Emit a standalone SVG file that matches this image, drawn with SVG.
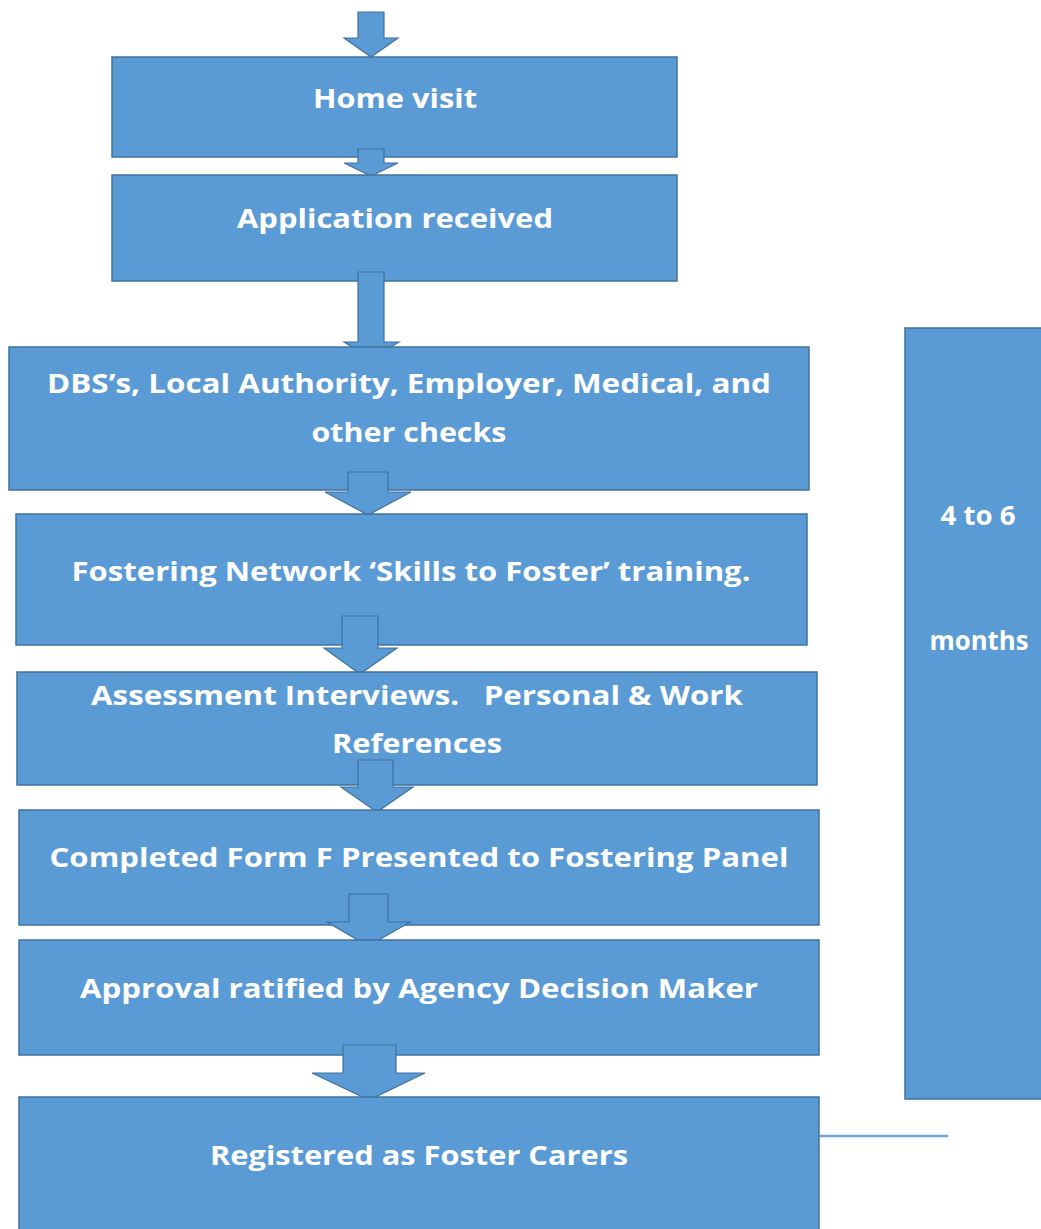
<svg xmlns="http://www.w3.org/2000/svg" width="1041" height="1229" viewBox="0 0 1041 1229">
<style>
.box{fill:#5b9bd5;stroke:#41719c;stroke-width:1.5}
.arr{fill:#5b9bd5;stroke:#41719c;stroke-width:1.2;stroke-linejoin:miter}
.t{fill:#ffffff;font-family:"Open Sans","Liberation Sans",sans-serif;font-weight:bold;font-size:27px;text-anchor:middle}
.conn{stroke:#6fa6d8;stroke-width:2.5;fill:none}
</style>
<rect width="1041" height="1229" fill="#ffffff"/>
<g id="a1"><polygon class="arr" points="358,12 384,12 384,38 398,38 371,57 344,38 358,38"/></g>
<g id="n1"><rect class="box" x="112" y="57" width="565" height="100"/><text class="t" x="395" y="108" textLength="164" lengthAdjust="spacingAndGlyphs">Home visit</text></g>
<g id="a2"><polygon class="arr" points="358,149 384,149 384,163 398,163 371,176 344,163 358,163"/></g>
<g id="n2"><rect class="box" x="112" y="175" width="565" height="106"/><text class="t" x="395" y="228" textLength="316" lengthAdjust="spacingAndGlyphs">Application received</text></g>
<g id="a3"><polygon class="arr" points="358,272 384,272 384,342 399,342 371,358 344,342 358,342"/></g>
<g id="n3"><rect class="box" x="9" y="347" width="800" height="143"/><text class="t" x="409" y="393" textLength="724" lengthAdjust="spacingAndGlyphs">DBS’s, Local Authority, Employer, Medical, and</text><text class="t" x="409" y="442" textLength="195" lengthAdjust="spacingAndGlyphs">other checks</text></g>
<g id="a4"><polygon class="arr" points="348,472 388,472 388,492 411,492 368,515 325,492 348,492"/></g>
<g id="n4"><rect class="box" x="16" y="514" width="791" height="131"/><text class="t" x="411" y="581" textLength="679" lengthAdjust="spacingAndGlyphs">Fostering Network ‘Skills to Foster’ training.</text></g>
<g id="a5"><polygon class="arr" points="342,616 378,616 378,648 397,648 360,674 324,648 342,648"/></g>
<g id="n5"><rect class="box" x="17" y="672" width="800" height="113"/><text class="t" x="417" y="705" textLength="652" lengthAdjust="spacingAndGlyphs" xml:space="preserve">Assessment Interviews.   Personal &amp; Work</text><text class="t" x="417" y="753" textLength="170" lengthAdjust="spacingAndGlyphs">References</text></g>
<g id="a6"><polygon class="arr" points="358,760 393,760 393,787 413,787 377,812 341,787 358,787"/></g>
<g id="n6"><rect class="box" x="19" y="810" width="800" height="115"/><text class="t" x="419" y="867" textLength="739" lengthAdjust="spacingAndGlyphs">Completed Form F Presented to Fostering Panel</text></g>
<g id="a7"><polygon class="arr" points="349,894 388,894 388,922 410,922 368,946 327,922 349,922"/></g>
<g id="n7"><rect class="box" x="19" y="940" width="800" height="115"/><text class="t" x="419" y="998" textLength="678" lengthAdjust="spacingAndGlyphs">Approval ratified by Agency Decision Maker</text></g>
<g id="a8"><polygon class="arr" points="343,1045 396,1045 396,1073 425,1073 369,1100 312,1073 343,1073"/></g>
<g id="n8"><rect class="box" x="19" y="1097" width="800" height="140"/><text class="t" x="419" y="1165" textLength="418" lengthAdjust="spacingAndGlyphs">Registered as Foster Carers</text></g>
<g id="n9"><rect class="box" x="905" y="328" width="140" height="771"/><text class="t" x="978" y="525" textLength="75" lengthAdjust="spacingAndGlyphs">4 to 6</text><text class="t" x="979" y="650" textLength="99" lengthAdjust="spacingAndGlyphs">months</text></g>
<g id="connectors"><line class="conn" x1="820" y1="1136" x2="948" y2="1136"/></g>
</svg>
